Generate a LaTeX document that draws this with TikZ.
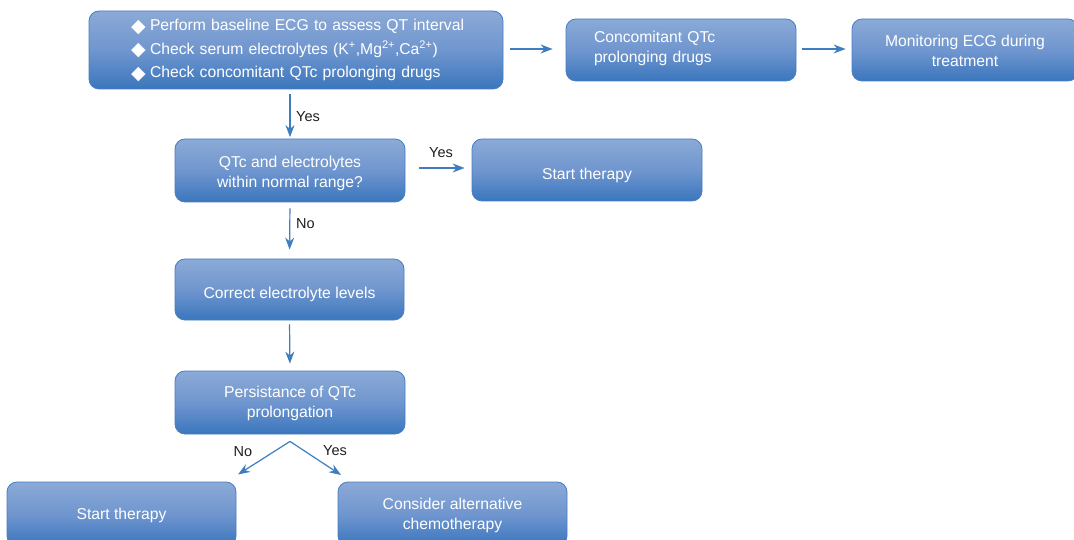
\documentclass[tikz,border=0pt]{standalone}
\usepackage{fontspec}
\setmainfont{Liberation Sans}
\newfontfamily\symfont{DejaVu Sans}
\usetikzlibrary{arrows.meta,positioning,calc}
\definecolor{boxtop}{RGB}{139,170,214}
\definecolor{boxmid}{RGB}{112,150,207}
\definecolor{boxbot}{RGB}{58,118,189}
\definecolor{boxline}{RGB}{70,126,194}
\definecolor{arrowc}{RGB}{62,126,192}
\definecolor{labelc}{RGB}{30,30,30}
\tikzset{
  flowbox/.style={draw=boxline, line width=0.8pt, rounded corners=10pt,
    top color=boxtop, bottom color=boxbot, middle color=boxmid,
    text=white, font=\fontsize{15.7}{20}\selectfont, align=center,
    inner sep=0pt},
  flowarrow/.style={draw=arrowc, line width=1.2pt,
    -{Stealth[length=12pt,width=9pt]}},
  lbl/.style={text=labelc, font=\fontsize{14.5}{17}\selectfont, inner sep=0pt},
}
\newcommand{\dmd}{\hspace*{15pt}\makebox[19pt][l]{\smash{\raisebox{-1.5pt}{\symfont\fontsize{19}{19}\selectfont ◆}}}}
\newcommand{\bt}[2]{\raisebox{#1}[\height][\depth]{\begin{tabular}{@{}c@{}}#2\end{tabular}}}
\newcommand{\btl}[2]{\raisebox{#1}[\height][\depth]{\begin{tabular}{@{}l@{}}#2\end{tabular}}}
\begin{document}
\begin{tikzpicture}[x=1pt,y=-1pt]
\useasboundingbox (0,0) rectangle (1074,540);
\begin{scope}
\clip (0,0) rectangle (1074,540);
% boxes
\node[flowbox, minimum width=414pt, minimum height=78pt, text width=360pt, align=left,
  font=\fontsize{15.7}{23.5}\selectfont] (b1) at (296,50)
  {\dmd Perform baseline ECG to assess QT interval\\
   \dmd Check serum electrolytes (K\textsuperscript{+},Mg\textsuperscript{2+},Ca\textsuperscript{2+})\\
   \dmd Check concomitant QTc prolonging drugs};
\node[flowbox, minimum width=230pt, minimum height=62pt, text width=174pt, align=left] (b2) at (681,50)
  {\btl{1pt}{Concomitant QTc\\prolonging drugs}};
\node[flowbox, minimum width=226pt, minimum height=62pt] (b3) at (965,50)
  {\bt{-2.5pt}{Monitoring ECG during\\treatment}};
\node[flowbox, minimum width=230pt, minimum height=63pt] (b4) at (290,170.5)
  {\bt{-3pt}{QTc and electrolytes\\within normal range?}};
\node[flowbox, minimum width=230pt, minimum height=62pt] (b5) at (587,170)
  {\bt{-5.5pt}{Start therapy}};
\node[flowbox, minimum width=229pt, minimum height=61pt] (b6) at (289.5,289.5)
  {\bt{-5pt}{Correct electrolyte levels}};
\node[flowbox, minimum width=230pt, minimum height=63pt] (b7) at (290,402.5)
  {\bt{-0.5pt}{Persistance of QTc\\prolongation}};
\node[flowbox, minimum width=229pt, minimum height=64pt] (b8) at (121.5,514)
  {\bt{-1pt}{Start therapy}};
\node[flowbox, minimum width=229pt, minimum height=64pt] (b9) at (452.5,514)
  {\bt{-1pt}{Consider alternative\\chemotherapy}};
\end{scope}
% connectors
\draw[flowarrow, shorten <=7pt, shorten >=13pt] (b1.east |- 0,49) -- (b2.west |- 0,49);
\draw[flowarrow, shorten <=6pt, shorten >=6pt] (b2.east |- 0,49) -- (b3.west |- 0,49);
\draw[flowarrow, shorten <=5pt, shorten >=1.5pt] (b1.south -| b4.north) -- (b4.north);
\draw[flowarrow, shorten <=14pt, shorten >=7pt] (b4.east |- 0,168) -- (b5.west |- 0,168);
\draw[flowarrow, shorten <=6pt, shorten >=9pt] (b4.south) -- (b6.north);
\draw[flowarrow, shorten <=4pt, shorten >=7pt] (b6.south) -- (b7.north);
\coordinate (split) at ($(b7.south)+(0,7)$);
\coordinate (endL) at (238,474.5);
\coordinate (endR) at (341,475);
\draw[flowarrow] (split) -- (endL);
\draw[flowarrow] (split) -- (endR);
% labels
\node[lbl, anchor=west] at (296,117) {Yes};
\node[lbl] at (441,153) {Yes};
\node[lbl, anchor=west] at (296,224) {No};
\node[lbl] at (243,452) {No};
\node[lbl] at (335,451) {Yes};
\end{tikzpicture}
\end{document}
